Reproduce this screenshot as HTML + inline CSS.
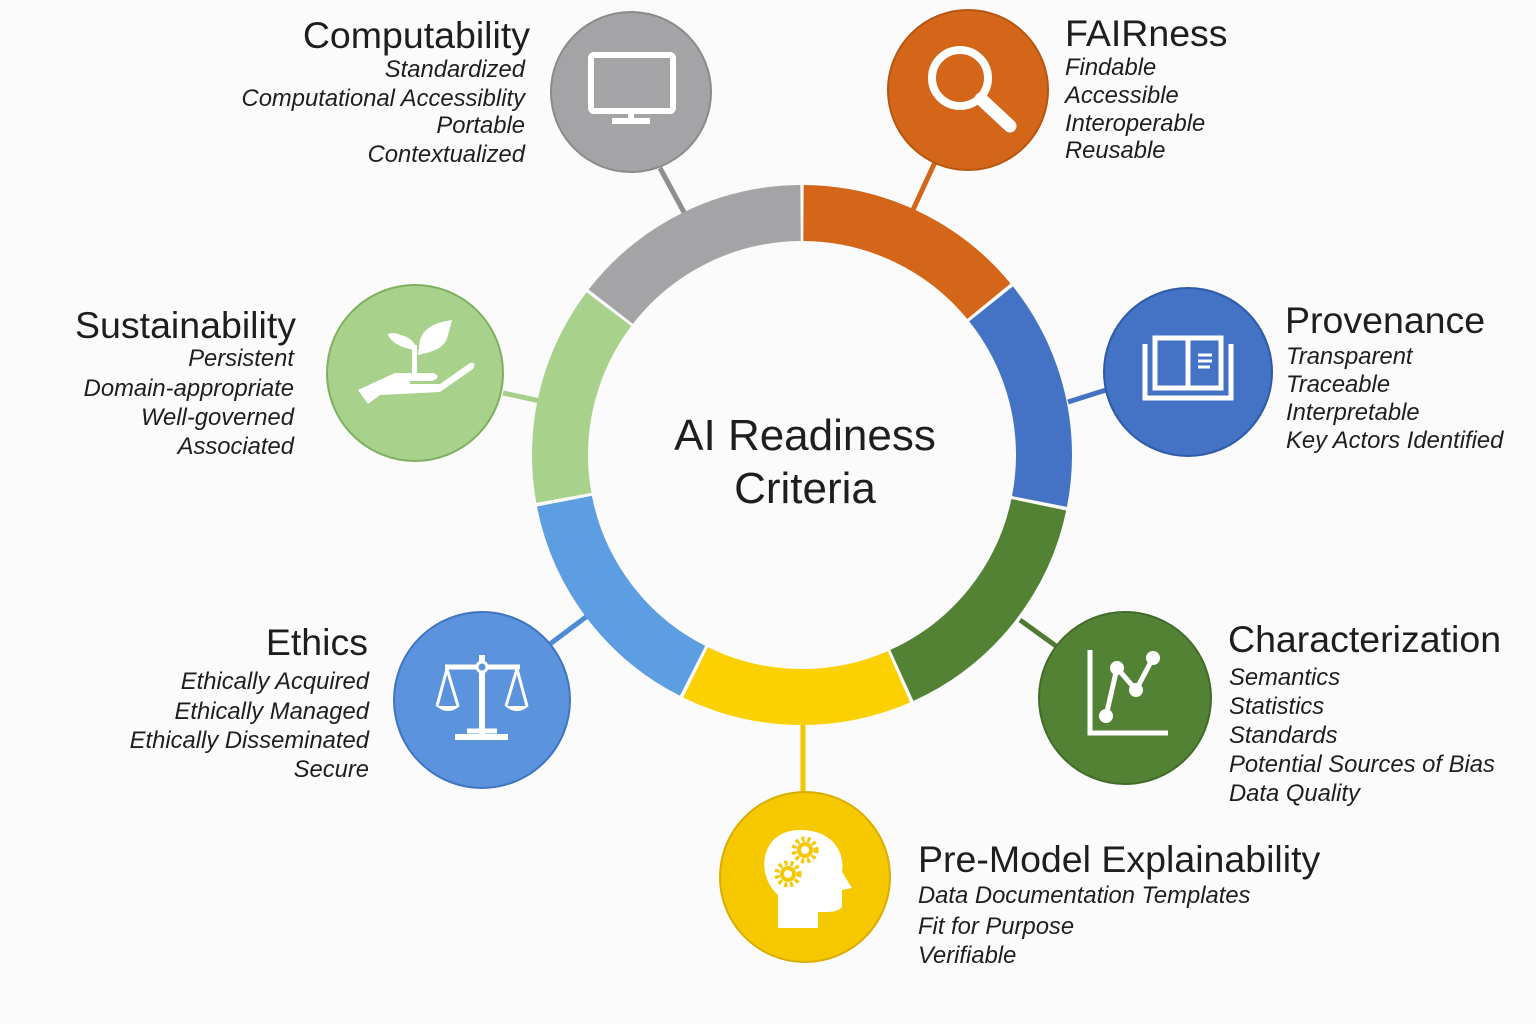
<!DOCTYPE html>
<html><head><meta charset="utf-8"><style>
html,body{margin:0;padding:0;background:#fbfbfb;}
svg{display:block;}
text{font-family:"Liberation Sans",sans-serif;fill:#1e1e1e;}
.t{font-size:37.5px;}
.i{font-size:23.8px;font-style:italic;}
.r{text-anchor:end;}
</style></head><body>
<svg width="1536" height="1024" viewBox="0 0 1536 1024" xmlns="http://www.w3.org/2000/svg">
<rect width="1536" height="1024" fill="#fbfbfb"/>
<g stroke-width="5" fill="none">
<line x1="660" y1="168" x2="686" y2="216" stroke="#8e8e90"/>
<line x1="936" y1="160" x2="912" y2="212" stroke="#d4661a"/>
<line x1="1106" y1="390" x2="1068" y2="402" stroke="#4472c4"/>
<line x1="1020" y1="620" x2="1056" y2="646" stroke="#4f7a33"/>
<line x1="803" y1="716" x2="803" y2="794" stroke="#f2c600"/>
<line x1="550" y1="644" x2="590" y2="614" stroke="#4f8ad6"/>
<line x1="503" y1="393" x2="540" y2="401" stroke="#a6d08a"/>
</g>
<g transform="rotate(-90 802 455)" fill="none" stroke-width="56">
<circle cx="802" cy="455" r="242" stroke="#a4a4a6" stroke-dasharray="219 2000" stroke-dashoffset="-1299.8"/>
<circle cx="802" cy="455" r="242" stroke="#d4661a" stroke-dasharray="212 2000" stroke-dashoffset="-1.5"/>
<circle cx="802" cy="455" r="242" stroke="#4472c4" stroke-dasharray="210 2000" stroke-dashoffset="-216.9"/>
<circle cx="802" cy="455" r="242" stroke="#548235" stroke-dasharray="227 2000" stroke-dashoffset="-430.2"/>
<circle cx="802" cy="455" r="242" stroke="#fbd104" stroke-dasharray="210 2000" stroke-dashoffset="-660.4"/>
<circle cx="802" cy="455" r="242" stroke="#5d9de2" stroke-dasharray="220 2000" stroke-dashoffset="-873.7"/>
<circle cx="802" cy="455" r="242" stroke="#a8d18c" stroke-dasharray="199.7 2000" stroke-dashoffset="-1097.1"/>
</g>
<text x="805" y="450" text-anchor="middle" style="font-size:44px">AI Readiness</text>
<text x="805" y="503" text-anchor="middle" style="font-size:44px">Criteria</text>

<circle cx="631" cy="92" r="80" fill="#a4a4a6" stroke="#8a8a8c" stroke-width="2"/>
<circle cx="968" cy="90" r="80" fill="#d4661a" stroke="#b8550f" stroke-width="2"/>
<circle cx="1188" cy="372" r="84" fill="#4472c4" stroke="#2f5aa8" stroke-width="2"/>
<circle cx="1125" cy="698" r="86" fill="#548235" stroke="#416b27" stroke-width="2"/>
<circle cx="805" cy="877" r="85" fill="#f5c800" stroke="#d9ae00" stroke-width="2"/>
<circle cx="482" cy="700" r="88" fill="#5b93dc" stroke="#3f75c0" stroke-width="2"/>
<circle cx="415" cy="373" r="88" fill="#a8d18c" stroke="#7fb060" stroke-width="2"/>

<g fill="none" stroke="#fff" stroke-width="6">
<rect x="591" y="55" width="82" height="56" rx="3"/>
<line x1="631" y1="112" x2="631" y2="120"/>
<line x1="612" y1="121" x2="650" y2="121"/>
<circle cx="960" cy="78" r="28" stroke-width="8"/>
<line x1="981" y1="99" x2="1010" y2="126" stroke-width="13" stroke-linecap="round"/>
<rect x="1155" y="338" width="66" height="50" stroke-width="5"/>
<line x1="1188" y1="338" x2="1188" y2="388" stroke-width="5"/>
<polyline points="1145,344 1145,398 1231,398 1231,344" stroke-width="5"/>
<line x1="1198" y1="355" x2="1212" y2="355" stroke-width="3"/>
<line x1="1198" y1="361" x2="1212" y2="361" stroke-width="3"/>
<line x1="1198" y1="367" x2="1210" y2="367" stroke-width="3"/>
<polyline points="1090,650 1090,733 1168,733" stroke-width="5"/>
<polyline points="1106,716 1117,668 1136,690 1153,658" stroke-width="5"/>
<line x1="482" y1="655" x2="482" y2="738" stroke-width="6"/>
<line x1="445" y1="667" x2="520" y2="667" stroke-width="5"/>
<line x1="455" y1="737" x2="508" y2="737" stroke-width="6"/>
<line x1="467" y1="731" x2="497" y2="731" stroke-width="5"/>
<polyline points="437,706 447,669 458,706" stroke-width="3"/>
<polyline points="506,706 517,669 527,706" stroke-width="3"/>
</g>
<g fill="#fff">
<path d="M436,706 h24 q-12,10 -24,0z"/>
<path d="M505,706 h24 q-12,10 -24,0z"/>
<circle cx="482" cy="667" r="5" fill="#5b93dc" stroke="#fff" stroke-width="3"/>
<circle cx="1106" cy="716" r="7"/><circle cx="1117" cy="668" r="7"/><circle cx="1136" cy="690" r="7"/><circle cx="1153" cy="658" r="7"/>
<path d="M778,928 L778,895 C755,875 760,830 800,830 C835,830 845,855 842,872 L852,888 L842,890 L842,906 C840,913 825,912 818,912 L818,928 Z"/>
<path d="M358,390 L395,373 L430,373 C440,373 440,380 430,381 L410,381 L410,384 L440,384 L470,363 C476,361 476,368 470,371 L440,392 L380,395 L368,404 Z"/>
<path d="M416,371 L416,352 C410,346 392,344 388,335 C400,332 415,338 417,350"/>
<path d="M418,355 C430,352 445,350 448,335 L452,320 C440,322 425,325 420,340 Z"/>
<path d="M388,334 C395,330 410,338 415,348 L414,350 C405,348 392,345 388,334 Z"/>
</g>
<rect x="412" y="345" width="5" height="28" fill="#fff"/>
<g fill="#f5c800" stroke="#f5c800" stroke-width="5" stroke-dasharray="3 3">
<circle cx="805" cy="850" r="11" fill="none"/>
<circle cx="788" cy="874" r="11" fill="none"/>
</g>
<g fill="#f5c800"><circle cx="805" cy="850" r="8"/><circle cx="788" cy="874" r="8"/></g>
<g fill="#fff"><circle cx="805" cy="850" r="4"/><circle cx="788" cy="874" r="4"/></g>

<text class="t r" x="530" y="48">Computability</text>
<text class="i r" x="525" y="77">Standardized</text>
<text class="i r" x="525" y="106">Computational Accessiblity</text>
<text class="i r" x="525" y="133">Portable</text>
<text class="i r" x="525" y="162">Contextualized</text>

<text class="t" x="1065" y="46">FAIRness</text>
<text class="i" x="1065" y="75">Findable</text>
<text class="i" x="1065" y="103">Accessible</text>
<text class="i" x="1065" y="131">Interoperable</text>
<text class="i" x="1065" y="158">Reusable</text>

<text class="t" x="1285" y="333">Provenance</text>
<text class="i" x="1286" y="364">Transparent</text>
<text class="i" x="1286" y="392">Traceable</text>
<text class="i" x="1286" y="420">Interpretable</text>
<text class="i" x="1286" y="448">Key Actors Identified</text>

<text class="t" x="1228" y="652">Characterization</text>
<text class="i" x="1229" y="685">Semantics</text>
<text class="i" x="1229" y="714">Statistics</text>
<text class="i" x="1229" y="743">Standards</text>
<text class="i" x="1229" y="772">Potential Sources of Bias</text>
<text class="i" x="1229" y="801">Data Quality</text>

<text class="t" x="918" y="872">Pre-Model Explainability</text>
<text class="i" x="918" y="903">Data Documentation Templates</text>
<text class="i" x="918" y="934">Fit for Purpose</text>
<text class="i" x="918" y="963">Verifiable</text>

<text class="t r" x="368" y="655">Ethics</text>
<text class="i r" x="369" y="689">Ethically Acquired</text>
<text class="i r" x="369" y="719">Ethically Managed</text>
<text class="i r" x="369" y="748">Ethically Disseminated</text>
<text class="i r" x="369" y="777">Secure</text>

<text class="t r" x="296" y="338">Sustainability</text>
<text class="i r" x="294" y="366">Persistent</text>
<text class="i r" x="294" y="396">Domain-appropriate</text>
<text class="i r" x="294" y="425">Well-governed</text>
<text class="i r" x="294" y="454">Associated</text>
</svg>
</body></html>
